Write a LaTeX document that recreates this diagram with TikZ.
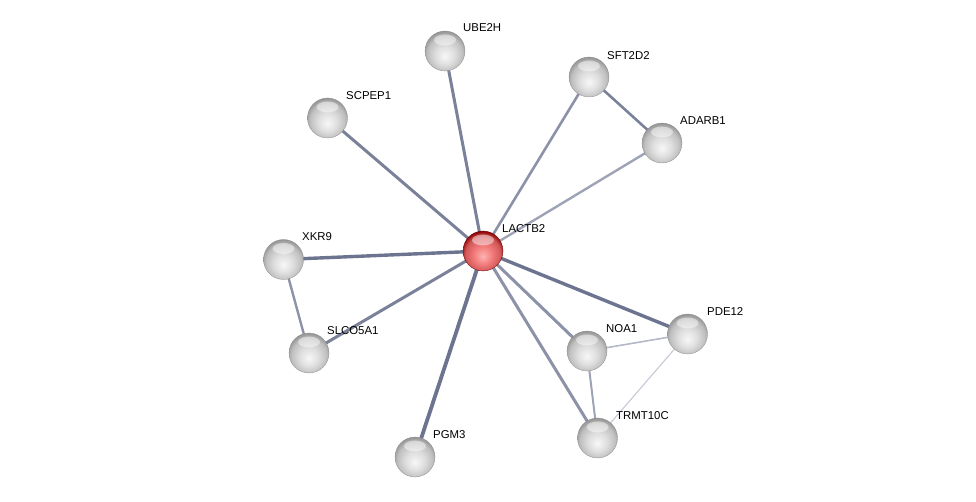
\documentclass[tikz,border=0pt]{standalone}
\usepackage{fontspec}
\setmainfont{Liberation Sans}
\usetikzlibrary{backgrounds}
\definecolor{eA}{HTML}{6C7490}
\definecolor{eB}{HTML}{7A8198}
\definecolor{eC}{HTML}{8C92A7}
\definecolor{eD}{HTML}{9EA3B5}
\definecolor{eE}{HTML}{B4B8C7}
\definecolor{eF}{HTML}{C6C9D5}
\pgfdeclareradialshading{gball}{\pgfpoint{0bp}{-7bp}}{color(0bp)=(white!97!black); color(12bp)=(white!87!black); color(22bp)=(white!75!black); color(28bp)=(white!58!black); color(50bp)=(white!58!black)}
\pgfdeclareradialshading{rball}{\pgfpoint{0bp}{-7bp}}{color(0bp)=(red!30!white); color(12bp)=(red!50!white!95!black); color(22bp)=(red!58!white!82!black); color(28bp)=(red!55!black); color(50bp)=(red!55!black)}
\tikzset{
  prot/.style={circle, minimum size=40pt, inner sep=0pt, draw=white!55!black, line width=0.3pt, shading=gball,
    path picture={\fill[white, fill opacity=0.45] ([yshift=11pt]path picture bounding box.center) ellipse (11pt and 5.5pt);}},
  query/.style={prot, draw=red!40!black, shading=rball},
  lbl/.style={anchor=west, inner sep=0pt, font=\fontsize{11.4}{13}\selectfont, text=black},
  edge/.style={line cap=round}
}
\begin{document}
\begin{tikzpicture}[x=1pt,y=-1pt]
\path[use as bounding box] (0,0) rectangle (976,502);
% nodes
\node[query] (lactb2) at (483,251) {};
\node[prot] (ube2h) at (445,51) {};
\node[prot] (sft2d2) at (589,77) {};
\node[prot] (adarb1) at (662,143) {};
\node[prot] (scpep1) at (327.5,118) {};
\node[prot] (xkr9) at (283.5,259.5) {};
\node[prot] (slco5a1) at (309,353) {};
\node[prot] (pgm3) at (415,457) {};
\node[prot] (noa1) at (587,351) {};
\node[prot] (pde12) at (687.5,334) {};
\node[prot] (trmt10c) at (597.5,438) {};
% labels
\node[lbl] (l-lactb2) at (502,229) {LACTB2};
\node[lbl] (l-ube2h) at (463,28) {UBE2H};
\node[lbl] (l-sft2d2) at (607,56) {SFT2D2};
\node[lbl] (l-adarb1) at (680,121) {ADARB1};
\node[lbl] (l-scpep1) at (346,96) {SCPEP1};
\node[lbl] (l-xkr9) at (302,237) {XKR9};
\node[lbl] (l-slco5a1) at (327,331) {SLCO5A1};
\node[lbl] (l-pgm3) at (433,435) {PGM3};
\node[lbl] (l-noa1) at (606,329) {NOA1};
\node[lbl] (l-pde12) at (707,312) {PDE12};
\node[lbl] (l-trmt10c) at (616,416) {TRMT10C};
% edges
\begin{pgfonlayer}{background}
\draw[edge, eB, line width=3pt] (lactb2.center) -- (ube2h.center);
\draw[edge, eB, line width=3pt] (lactb2.center) -- (scpep1.center);
\draw[edge, eC, line width=2.6pt] (lactb2.center) -- (sft2d2.center);
\draw[edge, eD, line width=2.4pt] (lactb2.center) -- (adarb1.center);
\draw[edge, eB, line width=2.6pt] (sft2d2.center) -- (adarb1.center);
\draw[edge, eA, line width=3.4pt] (lactb2.center) -- (xkr9.center);
\draw[edge, eB, line width=3pt] (lactb2.center) -- (slco5a1.center);
\draw[edge, eC, line width=2.4pt] (xkr9.center) -- (slco5a1.center);
\draw[edge, eA, line width=3.8pt] (lactb2.center) -- (pgm3.center);
\draw[edge, eC, line width=3pt] (lactb2.center) -- (noa1.center);
\draw[edge, eC, line width=3pt] (lactb2.center) -- (trmt10c.center);
\draw[edge, eA, line width=3.4pt] (lactb2.center) -- (pde12.center);
\draw[edge, eE, line width=1.6pt] (noa1.center) -- (pde12.center);
\draw[edge, eF, line width=1.1pt] (pde12.center) -- (trmt10c.center);
\draw[edge, eD, line width=2pt] (noa1.center) -- (trmt10c.center);
\end{pgfonlayer}
\end{tikzpicture}
\end{document}
